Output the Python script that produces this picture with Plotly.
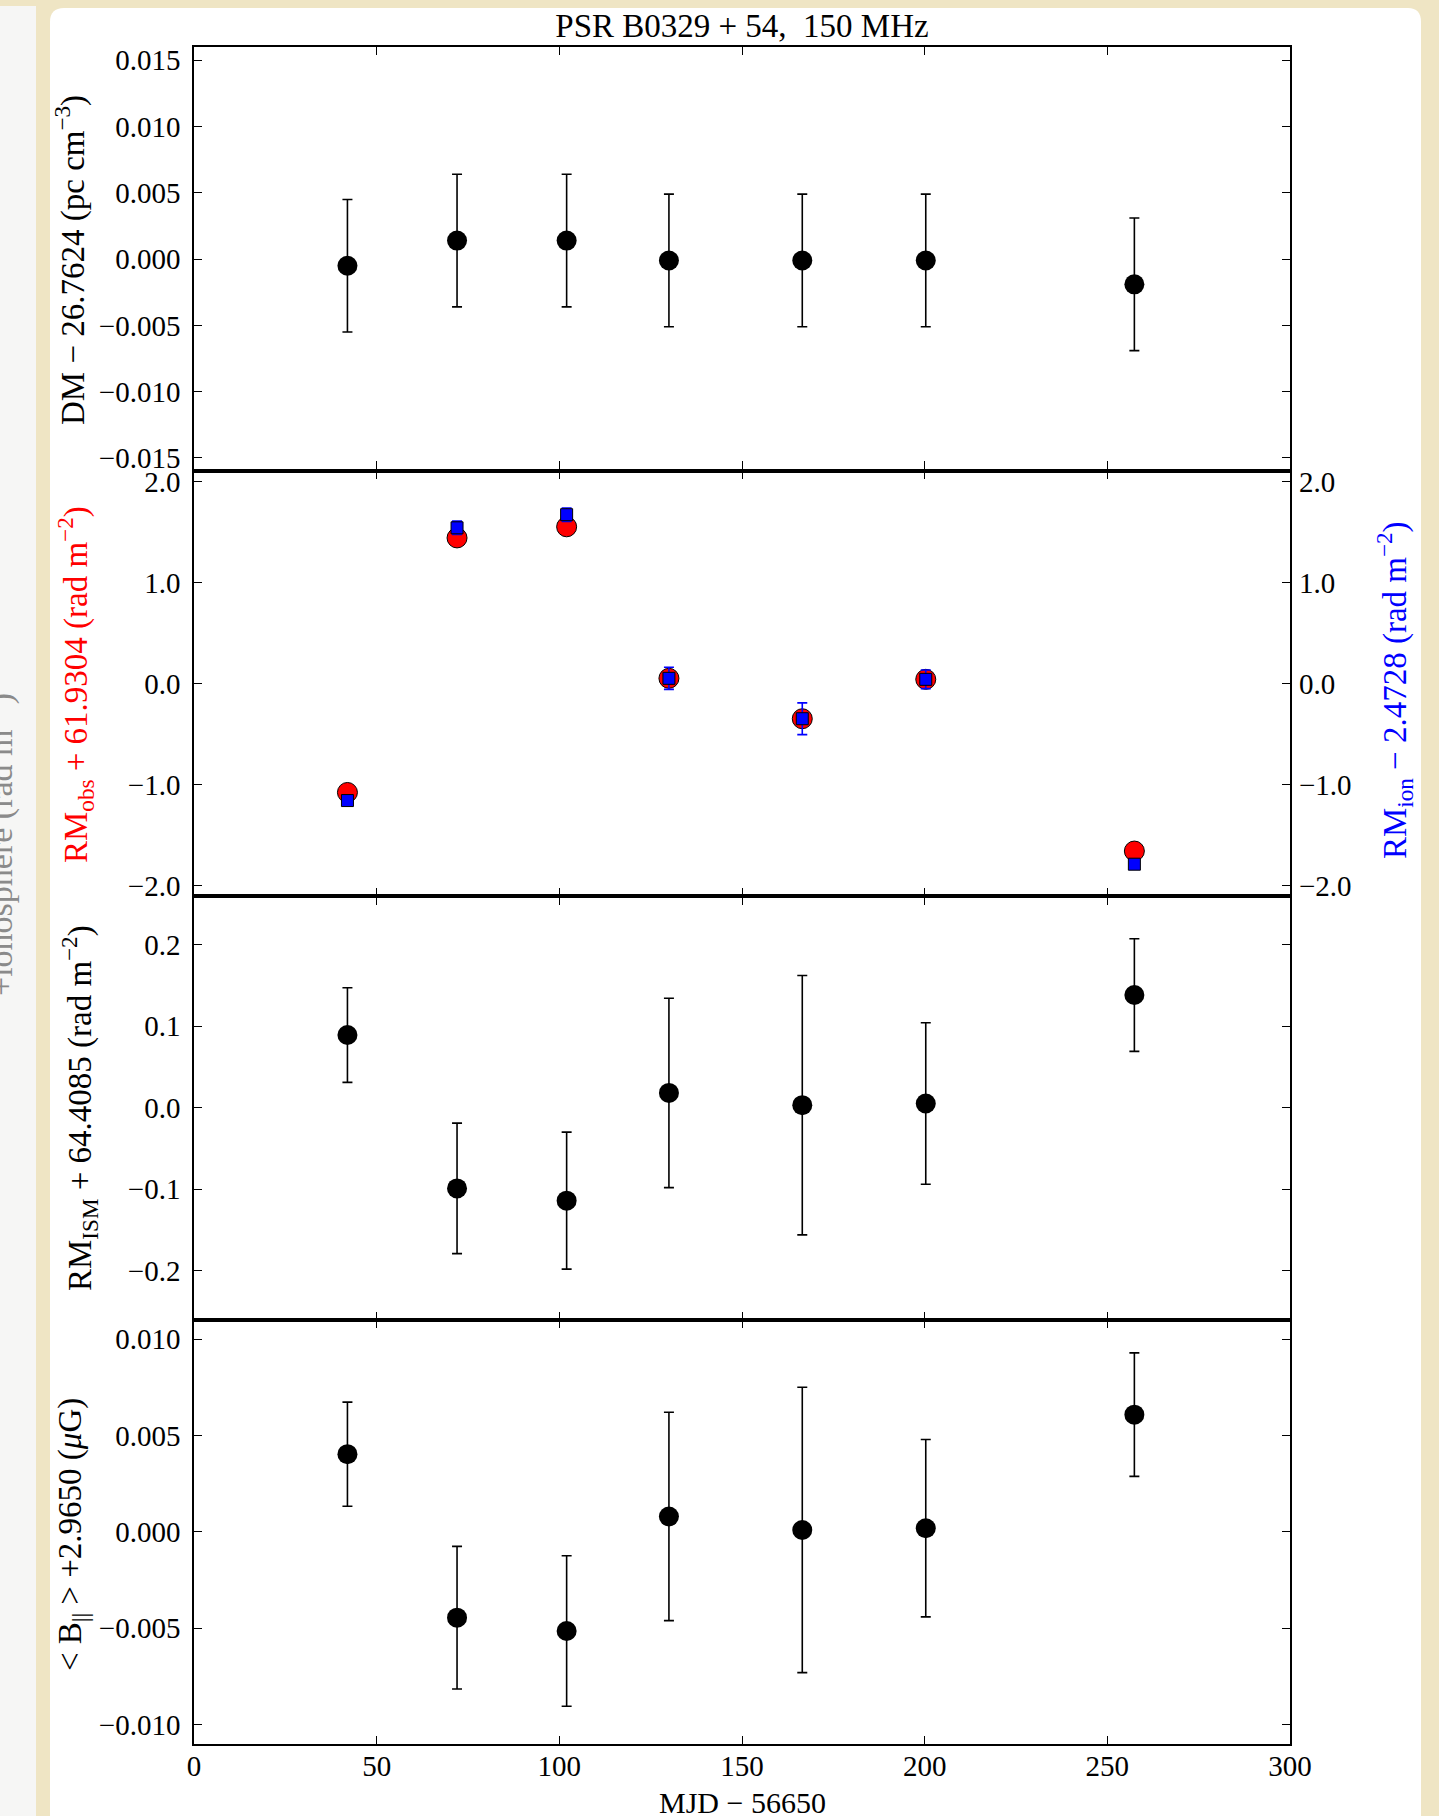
import plotly.graph_objects as go

# ---------------- data ----------------
mjd = [42.0, 72.0, 102.0, 130.0, 166.5, 200.3, 257.4]

dm = [-0.0005, 0.0014, 0.0014, -0.0001, -0.0001, -0.0001, -0.0019]
dm_err = [0.005, 0.005, 0.005, 0.005, 0.005, 0.005, 0.005]

rm_obs = [-1.08, 1.44, 1.55, 0.05, -0.35, 0.04, -1.66]
rm_obs_err = [0.03, 0.03, 0.03, 0.06, 0.05, 0.04, 0.03]

rm_ion = [-1.16, 1.54, 1.67, 0.05, -0.35, 0.04, -1.79]
rm_ion_err = [0.04, 0.066, 0.066, 0.109, 0.157, 0.092, 0.04]

rm_ism = [0.089, -0.099, -0.114, 0.018, 0.003, 0.005, 0.138]
rm_ism_err = [0.058, 0.080, 0.084, 0.116, 0.159, 0.099, 0.069]

b_par = [0.00403, -0.00445, -0.00514, 0.0008, 0.0001, 0.00019, 0.00608]
b_err = [0.0027, 0.0037, 0.0039, 0.0054, 0.0074, 0.0046, 0.0032]

x_ticks = [0, 50, 100, 150, 200, 250, 300]
dm_ticks = [-0.015, -0.010, -0.005, 0.0, 0.005, 0.010, 0.015]
rm_ticks = [-2.0, -1.0, 0.0, 1.0, 2.0]
ism_ticks = [-0.2, -0.1, 0.0, 0.1, 0.2]
b_ticks = [-0.010, -0.005, 0.0, 0.005, 0.010]

title_text = "PSR B0329 + 54,  150 MHz"
x_title = "MJD − 56650"
y_titles = [
    "DM − 26.7624 (pc cm<sup>−3</sup>)",
    "RM<sub>obs</sub> + 61.9304 (rad m<sup>−2</sup>)",
    "RM<sub>ion</sub> − 2.4728 (rad m<sup>−2</sup>)",
    "RM<sub>ISM</sub> + 64.4085 (rad m<sup>−2</sup>)",
    "&lt; B<sub>||</sub> &gt; +2.9650 (<i>μ</i>G)",
]

# ---------------- layout geometry ----------------
W, H = 1439, 1816
L, R, T, B = 194, 149, 47, 72
PW = W - L - R
PH = H - T - B
FONT = "Liberation Serif, Times New Roman, serif"


def px(xp):
    return (xp - L) / PW


def py(yp):
    return (H - B - yp) / PH


fig = go.Figure()

err_common = dict(type="data", visible=True, thickness=1.6, width=5)

fig.add_trace(go.Scatter(
    x=mjd, y=dm, mode="markers", xaxis="x", yaxis="y",
    marker=dict(size=20, color="black"),
    error_y=dict(array=dm_err, color="black", **err_common),
    showlegend=False))

fig.add_trace(go.Scatter(
    x=mjd, y=rm_obs, mode="markers", xaxis="x2", yaxis="y2",
    marker=dict(size=20, color="red", line=dict(color="black", width=1)),
    error_y=dict(array=rm_obs_err, color="red", **err_common),
    showlegend=False))

fig.add_trace(go.Scatter(
    x=mjd, y=rm_ion, mode="markers", xaxis="x2", yaxis="y5",
    marker=dict(size=12, symbol="square", color="blue",
                line=dict(color="black", width=1)),
    error_y=dict(array=rm_ion_err, color="blue", **err_common),
    showlegend=False))

fig.add_trace(go.Scatter(
    x=mjd, y=rm_ism, mode="markers", xaxis="x3", yaxis="y3",
    marker=dict(size=20, color="black"),
    error_y=dict(array=rm_ism_err, color="black", **err_common),
    showlegend=False))

fig.add_trace(go.Scatter(
    x=mjd, y=b_par, mode="markers", xaxis="x4", yaxis="y4",
    marker=dict(size=20, color="black"),
    error_y=dict(array=b_err, color="black", **err_common),
    showlegend=False))

tickfont = dict(family=FONT, size=29, color="black")
axis_common = dict(
    ticks="inside", ticklen=8, tickwidth=1, tickcolor="black",
    showline=True, linecolor="black", linewidth=1.6, mirror="allticks",
    showgrid=False, zeroline=False, tickfont=tickfont, automargin=False,
)

domains = [[0.75, 1.0], [0.5, 0.75], [0.25, 0.5], [0.0, 0.25]]

layout = dict(
    width=W, height=H,
    margin=dict(l=L, r=R, t=T, b=B, autoexpand=False),
    paper_bgcolor="#EFE5C4",
    plot_bgcolor="white",
    font=dict(family=FONT, color="black"),
    title=dict(text=title_text, x=0.5, xref="paper", xanchor="center",
               y=1 - 25 / H, yref="container", yanchor="middle",
               font=dict(family=FONT, size=33, color="black")),
)

for i in range(4):
    n = "" if i == 0 else str(i + 1)
    layout["xaxis" + n] = dict(
        axis_common, domain=[0, 1], anchor="y" + n, range=[0, 300],
        tickvals=x_ticks, showticklabels=(i == 3), ticklabelstandoff=-5,
    )

layout["yaxis"] = dict(axis_common, domain=domains[0], anchor="x",
                       range=[-0.016, 0.016], tickvals=dm_ticks,
                       tickformat=".3f", ticklabelstandoff=6)
layout["yaxis2"] = dict(axis_common, domain=domains[1], anchor="x2",
                        range=[-2.1, 2.1], tickvals=rm_ticks,
                        tickformat=".1f", ticklabelstandoff=6)
layout["yaxis3"] = dict(axis_common, domain=domains[2], anchor="x3",
                        range=[-0.26, 0.26], tickvals=ism_ticks,
                        tickformat=".1f", ticklabelstandoff=6)
layout["yaxis4"] = dict(axis_common, domain=domains[3], anchor="x4",
                        range=[-0.011, 0.011], tickvals=b_ticks,
                        tickformat=".3f", ticklabelstandoff=6)
layout["yaxis5"] = dict(
    overlaying="y2", side="right", anchor="x2", range=[-2.1, 2.1],
    tickvals=rm_ticks, tickformat=".1f", ticks="inside", ticklen=8,
    tickwidth=1, tickcolor="black", showline=False, showgrid=False,
    zeroline=False, tickfont=tickfont, ticklabelstandoff=8, automargin=False,
)

fig.update_layout(**layout)

# background: white card on parchment, with a screenshot strip on the left
card_path = (
    f"M {px(50)},{py(1816)} L {px(50)},{py(22)} "
    f"Q {px(50)},{py(8)} {px(64)},{py(8)} "
    f"L {px(1408)},{py(8)} Q {px(1421)},{py(8)} {px(1421)},{py(22)} "
    f"L {px(1421)},{py(1816)} Z"
)
fig.add_shape(type="path", path=card_path, xref="paper", yref="paper",
              fillcolor="white", line=dict(width=0), layer="below")
fig.add_shape(type="rect", xref="paper", yref="paper",
              x0=px(0), x1=px(36), y0=py(1816), y1=py(6),
              fillcolor="#F6F6F5", line=dict(width=0), layer="below")

# faint, clipped text in the left strip
fig.add_annotation(
    text="+ionosphere (rad m<sup>−2</sup>)", xref="paper", yref="paper",
    x=px(-2), y=py(845), xanchor="center", yanchor="middle",
    textangle=-90, showarrow=False,
    font=dict(family=FONT, size=34, color="#8a8a8a"))

# x-axis title
fig.add_annotation(
    text=x_title, xref="paper", yref="paper", x=0.5, y=py(1802),
    xanchor="center", yanchor="middle", showarrow=False,
    font=dict(family=FONT, size=30, color="black"))

# y-axis titles
y_title_pos = [(71, 260, "black"), (75, 685, "red"), (1394, 690, "blue"),
               (79, 1108, "black"), (72, 1535, "black")]
for text, (xp, yp, col) in zip(y_titles, y_title_pos):
    fig.add_annotation(
        text=text, xref="paper", yref="paper", x=px(xp), y=py(yp),
        xanchor="center", yanchor="middle", textangle=-90, showarrow=False,
        font=dict(family=FONT, size=33, color=col))

fig.write_html("out.html")
